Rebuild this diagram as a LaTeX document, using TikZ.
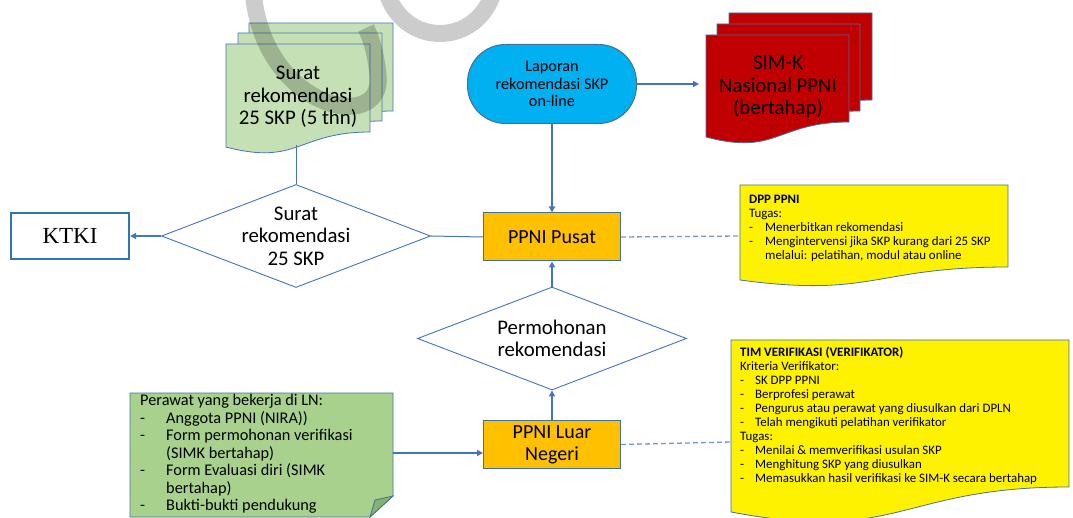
\documentclass[tikz,border=0pt]{standalone}
\usepackage{fontspec}
\setmainfont{Carlito}
\newfontfamily\ktkifont{Liberation Serif}
\usetikzlibrary{shapes.geometric,arrows.meta}

\definecolor{lnblue}{HTML}{4472C4}
\definecolor{edgeblue}{HTML}{41719C}
\definecolor{docgreen}{HTML}{C5E0B4}
\definecolor{notegreen}{HTML}{A9D18E}
\definecolor{foldgreen}{HTML}{87B26A}
\definecolor{procorange}{HTML}{FFC000}
\definecolor{skyblue}{HTML}{00B0F0}
\definecolor{simred}{HTML}{C00000}
\definecolor{ktkiblue}{HTML}{2E75B6}

\tikzset{
  proc/.style={draw=edgeblue, fill=procorange, line width=1pt, minimum width=137pt, minimum height=48pt, align=center, font=\fontsize{20}{21.7}\selectfont},
  dec/.style={diamond, draw=lnblue, line width=0.9pt, minimum width=269pt, minimum height=103pt, inner sep=0pt},
  bigtxt/.style={align=center, inner sep=0pt, font=\fontsize{20.8}{22.5}\selectfont},
  notetxt/.style={align=left, anchor=north west, inner sep=0pt, font=\fontsize{12.9}{14}\selectfont},
  flow/.style={lnblue, line width=2pt, -{Triangle[length=6pt,width=6pt]}},
  link/.style={lnblue, line width=1pt},
  dashlink/.style={lnblue!75, line width=1.3pt, dash pattern=on 5pt off 3pt},
}

\begin{document}
\begin{tikzpicture}[x=1pt, y=-1pt]
\useasboundingbox (0,0) rectangle (1073,518);

% Surat rekomendasi (stack of pages)
\foreach \dx/\dy in {23/-21, 12/-11, 0/0} {
  \draw[draw=lnblue, fill=docgreen, line width=0.8pt, shift={(\dx,\dy)}] (226,44) -- (370,44) -- (370,132) .. controls (298,132) and (298,166) .. (226,147) -- cycle;
}
\node[bigtxt] (surattxt) at (298,97) {Surat\\rekomendasi\\25 SKP (5 thn)};
\coordinate (suratbot) at (296,145);

% SIM-K (stack of pages)
\foreach \dx/\dy in {23/-22, 11/-11, 0/0} {
  \draw[draw=edgeblue, fill=simred, line width=0.8pt, shift={(\dx,\dy)}] (706,35) -- (849,35) -- (849,122) .. controls (777,122) and (777,156) .. (706,137) -- cycle;
}
\node[bigtxt] (simktxt) at (778,87) {SIM-K\\Nasional PPNI\\(bertahap)};
\coordinate (simkin) at (699,84);

% Laporan
\node[draw=edgeblue, fill=skyblue, line width=1pt, rounded corners=38pt, minimum width=169pt, minimum height=79pt, align=center, font=\fontsize{16.2}{17.5}\selectfont] (lapor) at (552,84) {Laporan\\rekomendasi SKP\\on-line};

% Boxes and decisions
\node[draw=ktkiblue, line width=2.2pt, minimum width=118pt, minimum height=46pt, font=\ktkifont\fontsize{23}{25}\selectfont] (ktki) at (70,236) {KTKI};
\node[dec] (d1) at (296,236) {};
\node[bigtxt] (d1txt) at (d1) {Surat\\rekomendasi\\25 SKP};
\node[proc] (pusat) at (552,237) {PPNI Pusat};
\node[dec] (d2) at (552,338.5) {};
\node[bigtxt, font=\fontsize{20.8}{21.7}\selectfont] (d2txt) at (d2) {Permohonan\\rekomendasi};
\node[proc] (luar) at (552,444.5) {PPNI Luar\\Negeri};

% DPP PPNI note
\draw[draw=edgeblue, fill=yellow, line width=0.8pt] (740,185) -- (1008,185) -- (1008,267) .. controls (874,267) and (874,298) .. (740,280) -- cycle;
\node[notetxt] (dpptxt) at (749,195) {\textbf{DPP PPNI}\\Tugas:\\
\makebox[16pt][l]{-}Menerbitkan rekomendasi\\
\makebox[16pt][l]{-}Mengintervensi jika SKP kurang dari 25 SKP\\
\hspace*{16pt}melalui: pelatihan, modul atau online};
\coordinate (dppin) at (740,236);

% TIM verifikasi note
\draw[draw=edgeblue, fill=yellow, line width=0.8pt] (731,340) -- (1069,340) -- (1069,487) .. controls (900,487) and (900,544) .. (731,512) -- cycle;
\node[notetxt] (timtxt) at (740,347) {\textbf{TIM VERIFIKASI (VERIFIKATOR)}\\Kriteria Verifikator:\\
\makebox[15pt][l]{-}SK DPP PPNI\\
\makebox[15pt][l]{-}Berprofesi perawat\\
\makebox[15pt][l]{-}Pengurus atau perawat yang diusulkan dari DPLN\\
\makebox[15pt][l]{-}Telah mengikuti pelatihan verifikator\\
Tugas:\\
\makebox[15pt][l]{-}Menilai \& memverifikasi usulan SKP\\
\makebox[15pt][l]{-}Menghitung SKP yang diusulkan\\
\makebox[15pt][l]{-}Memasukkan hasil verifikasi ke SIM-K secara bertahap};
\coordinate (timin) at (731,442);

% Perawat note (folded corner)
\draw[draw=edgeblue, fill=notegreen, line width=0.8pt] (130,393) -- (393,393) -- (393,496) -- (370,517) -- (130,517) -- cycle;
\draw[draw=edgeblue, fill=foldgreen, line width=0.8pt] (370,517) -- (375,500) -- (393,496) -- cycle;
\node[notetxt, font=\fontsize{16.3}{17.5}\selectfont] (perawattxt) at (140,394) {Perawat yang bekerja di LN:\\
\makebox[26pt][l]{-}Anggota PPNI (NIRA))\\
\makebox[26pt][l]{-}Form permohonan verifikasi\\
\hspace*{26pt}(SIMK bertahap)\\
\makebox[26pt][l]{-}Form Evaluasi diri (SIMK\\
\hspace*{26pt}bertahap)\\
\makebox[26pt][l]{-}Bukti-bukti pendukung};
\coordinate (perawatout) at (393,453);

% Connectors
\draw[link] (suratbot) -- (d1.north);
\draw[flow] (d1.west) -- (ktki.east);
\draw[link] (d1.east) -- (pusat.west);
\draw[flow] (lapor.south) -- (pusat.north);
\draw[flow] (lapor.east) -- (simkin);
\draw[flow] (d2.north) -- (pusat.south);
\draw[flow] (luar.north) -- (d2.south);
\draw[flow] (perawatout) -- (perawatout -| luar.west);
\draw[dashlink] (pusat.east) -- (dppin);
\draw[dashlink] (luar.east) -- (timin);

% Watermark
\draw[black, opacity=0.2, line width=17pt] (253,-10) .. controls (262,110) and (385,135) .. (378,75) .. controls (376,55) and (372,40) .. (366,28);
\draw[black, opacity=0.2, line width=17pt] (386,-10) .. controls (402,48) and (478,48) .. (494,-10);
\end{tikzpicture}
\end{document}
